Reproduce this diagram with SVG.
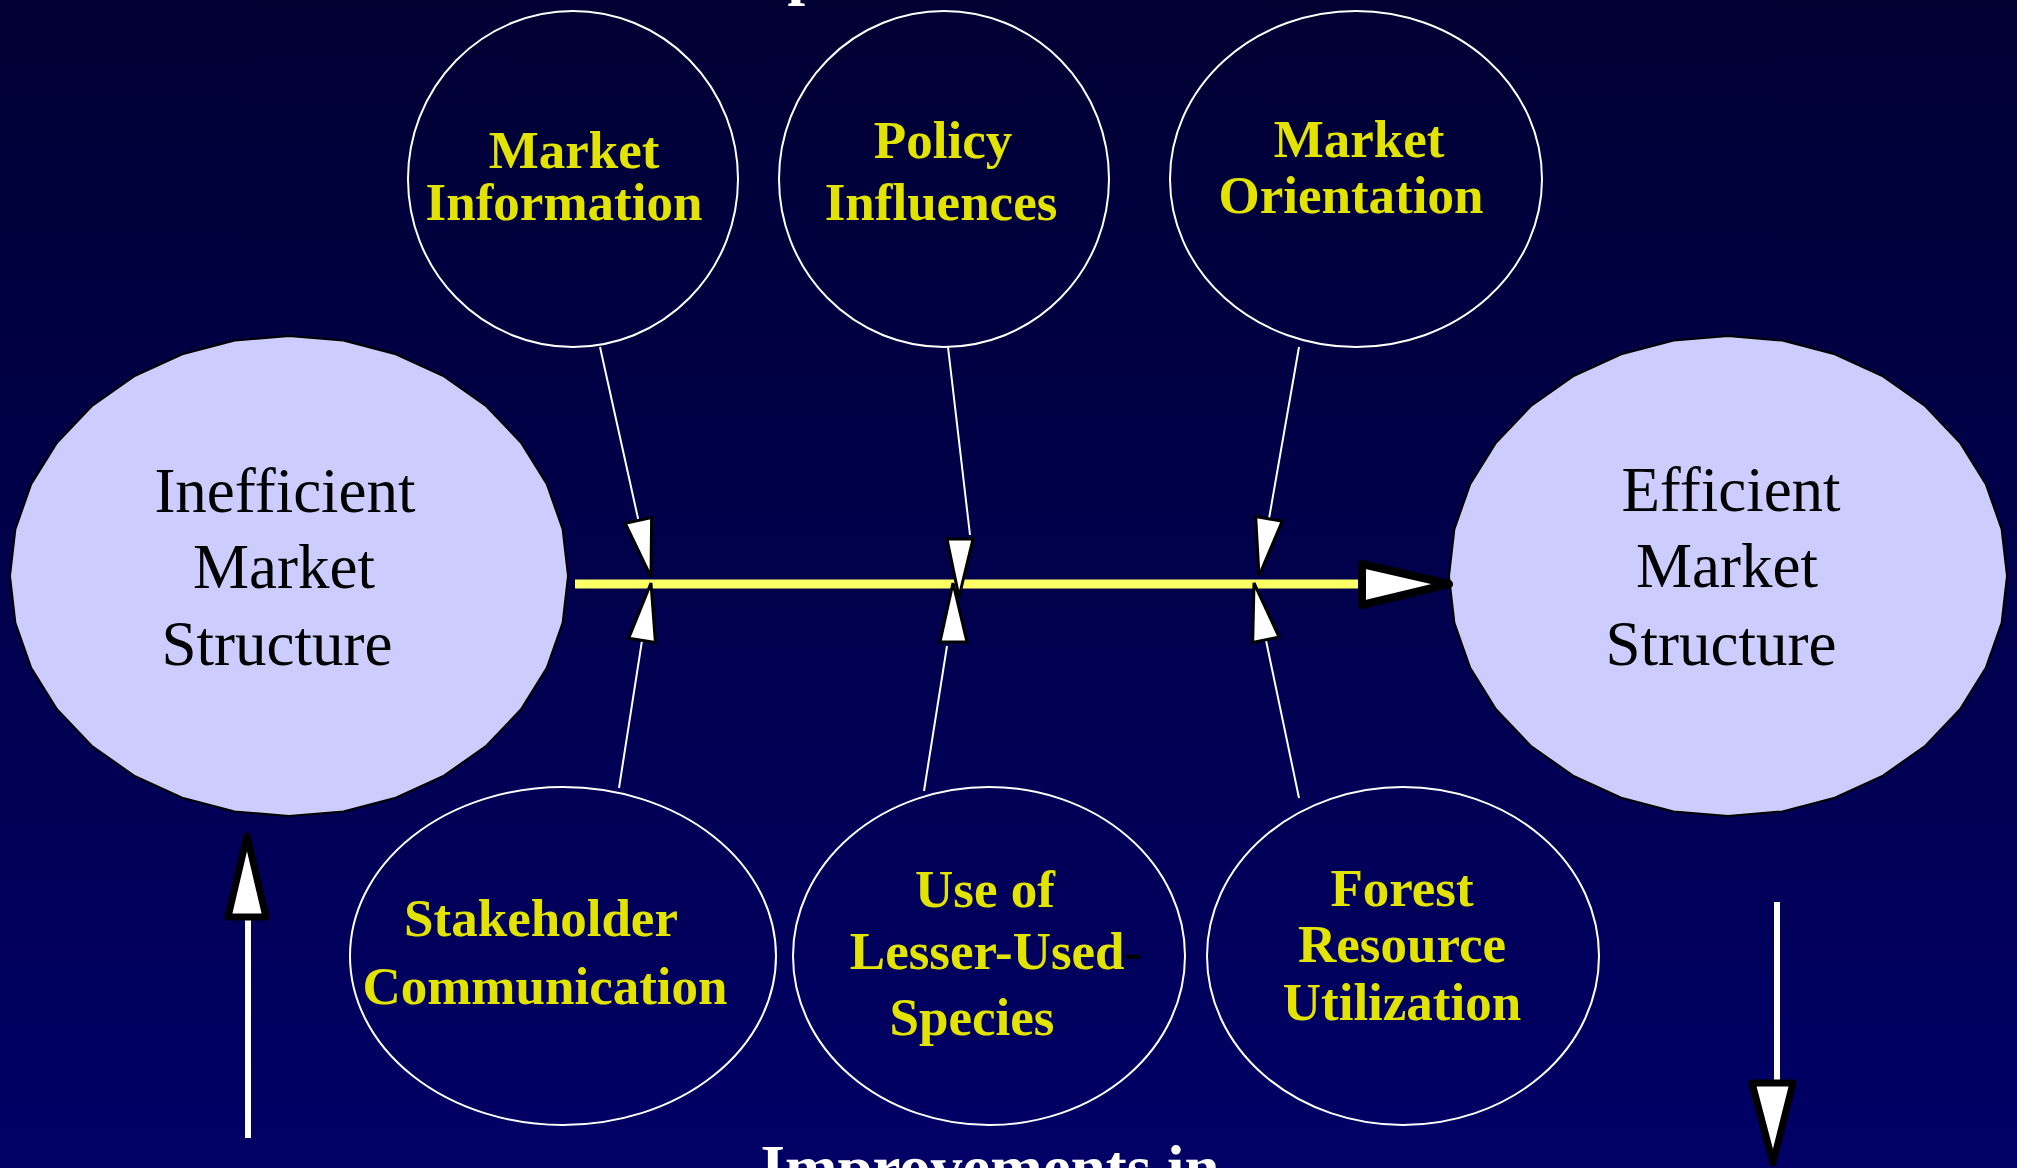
<svg xmlns="http://www.w3.org/2000/svg" xmlns:xlink="http://www.w3.org/1999/xlink" width="2017" height="1168" viewBox="0 0 2017 1168">
  <defs>
    <linearGradient id="bg" x1="0" y1="0" x2="0" y2="1">
      <stop offset="0" stop-color="#000033"/>
      <stop offset="1" stop-color="#000066"/>
    </linearGradient>
    <!-- faceted ellipse used for both end states (32 vertices) -->
    <polygon id="facet" points="568,576 562.6,622.8 546.8,667.8 521,709.3 486.3,745.7 444,775.6 395.8,797.7 343.4,811.4 289,816 234.6,811.4 182.2,797.7 134,775.6 91.7,745.7 57,709.3 31.2,667.8 15.4,622.8 10,576 15.4,529.2 31.2,484.2 57,442.7 91.7,406.3 134,376.4 182.2,354.3 234.6,340.6 289,336 343.4,340.6 395.8,354.3 444,376.4 486.3,406.3 521,442.7 546.8,484.2 562.6,529.2"/>
    <marker id="tip" markerUnits="userSpaceOnUse" viewBox="-64 -20 76 40" markerWidth="76" markerHeight="40" refX="0" refY="0" orient="auto">
      <path d="M0,0 L-58,-13.5 L-58,13.5 Z" fill="#fff" stroke="#000" stroke-width="3"/>
    </marker>
  </defs>
  <style>
    .state { fill: #CCCCFF; stroke: #000; stroke-width: 2; }
    .factor { fill: none; stroke: #fff; stroke-width: 2; }
    .dark { font-family: "Liberation Serif", "Times New Roman", serif; font-size: 63px; fill: #000; text-anchor: middle; }
    .lbl { font-family: "Liberation Serif", "Times New Roman", serif; font-weight: bold; font-size: 53px; fill: #E2E400; text-anchor: middle; }
    .title { font-family: "Liberation Serif", "Times New Roman", serif; font-weight: bold; font-size: 63px; fill: #fff; text-anchor: middle; }
    .wire { stroke: #fff; stroke-width: 2; fill: none; }
    .link { stroke: #fff; stroke-width: 2; fill: none; marker-end: url(#tip); }
    .head { fill: #fff; stroke: #000; stroke-linejoin: round; }
    .small { fill: #fff; stroke: #000; stroke-width: 3; }
  </style>

  <rect x="0" y="0" width="2017" height="1168" fill="url(#bg)"/>

  <!-- title lines, mostly outside the frame -->
  <text class="title" x="805" y="-8" text-anchor="start">p</text>
  <text class="title" x="990" y="1189">Improvements in</text>

  <!-- end states -->
  <g id="inefficient-market-structure">
    <use xlink:href="#facet" class="state"/>
    <text class="dark" x="285" y="512">Inefficient</text>
    <text class="dark" x="284" y="588">Market</text>
    <text class="dark" x="277" y="665">Structure</text>
  </g>
  <g id="efficient-market-structure">
    <use xlink:href="#facet" class="state" transform="translate(1439,0)"/>
    <text class="dark" x="1731" y="511">Efficient</text>
    <text class="dark" x="1727" y="587">Market</text>
    <text class="dark" x="1721" y="665">Structure</text>
  </g>

  <!-- influencing factors -->
  <g id="market-information">
    <ellipse class="factor" cx="573" cy="179" rx="165" ry="168"/>
    <text class="lbl" x="574" y="168">Market</text>
    <text class="lbl" x="564" y="220">Information</text>
  </g>
  <g id="policy-influences">
    <ellipse class="factor" cx="944" cy="179" rx="165" ry="168"/>
    <text class="lbl" x="943" y="158">Policy</text>
    <text class="lbl" x="941" y="220">Influences</text>
  </g>
  <g id="market-orientation">
    <ellipse class="factor" cx="1356" cy="179" rx="186" ry="168"/>
    <text class="lbl" x="1359" y="157">Market</text>
    <text class="lbl" x="1351" y="213">Orientation</text>
  </g>
  <g id="stakeholder-communication">
    <ellipse class="factor" cx="563" cy="956" rx="213" ry="169"/>
    <text class="lbl" x="541" y="936">Stakeholder</text>
    <text class="lbl" x="545" y="1004">Communication</text>
  </g>
  <g id="lesser-used-species">
    <ellipse class="factor" cx="989" cy="956" rx="196" ry="169"/>
    <text class="lbl" x="985" y="907">Use of</text>
    <text class="lbl" x="996" y="969">Lesser-Used<tspan fill="#000">-</tspan></text>
    <text class="lbl" x="972" y="1035">Species</text>
  </g>
  <g id="forest-resource-utilization">
    <ellipse class="factor" cx="1403" cy="956" rx="196" ry="169"/>
    <text class="lbl" x="1402" y="906">Forest</text>
    <text class="lbl" x="1402" y="962">Resource</text>
    <text class="lbl" x="1402" y="1020">Utilization</text>
  </g>

  <g id="connectors">
    <!-- main transition -->
    <line x1="575" y1="584" x2="1362" y2="584" stroke="#FFFF66" stroke-width="9"/>
    <polygon class="head" stroke-width="8" points="1362,564 1362,605 1449,584"/>
    <!-- factor arrows onto the transition -->
    <line class="link" x1="600" y1="347" x2="651" y2="577"/>
    <line class="link" x1="619" y1="788" x2="651" y2="583"/>
    <line class="wire" x1="948" y1="347" x2="970" y2="535"/>
    <line class="wire" x1="924" y1="791" x2="947" y2="646"/>
    <polygon class="small" points="940,642 967,642 953,583"/>
    <polygon class="small" points="947,539 973,539 959,597"/>
    <line class="link" x1="1299" y1="347" x2="1259" y2="576"/>
    <line class="link" x1="1299" y1="798" x2="1254" y2="583"/>
    <!-- side arrows -->
    <line x1="248" y1="1138" x2="248" y2="917" stroke="#fff" stroke-width="6"/>
    <polygon class="head" stroke-width="7" points="228,917 266,917 247,836"/>
    <line x1="1777" y1="902" x2="1777" y2="1083" stroke="#fff" stroke-width="6"/>
    <polygon class="head" stroke-width="7" points="1752,1083 1793,1083 1773,1163"/>
  </g>
</svg>
